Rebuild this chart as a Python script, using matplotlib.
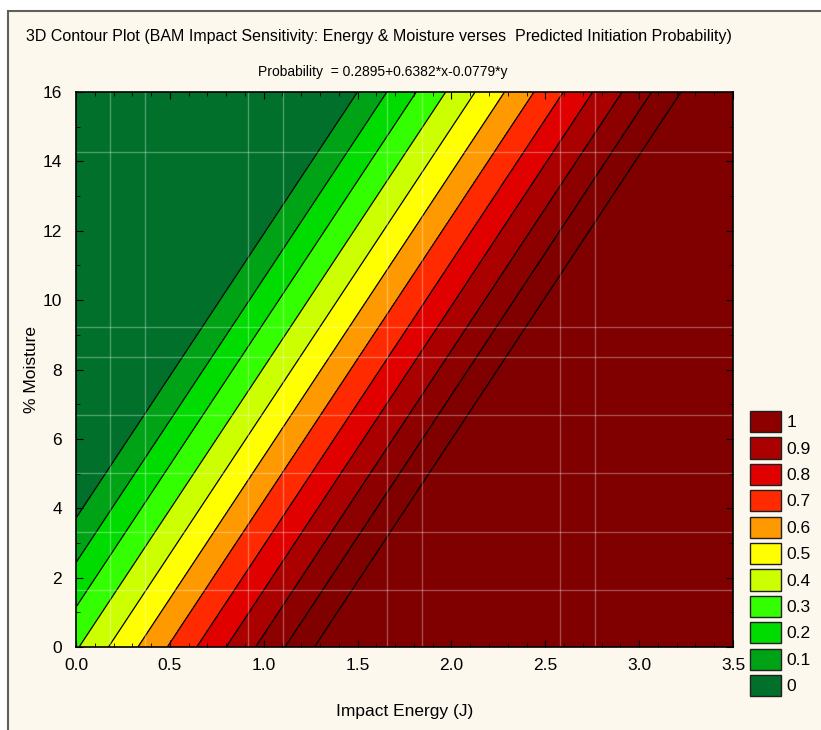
import numpy as np
import matplotlib
matplotlib.use("Agg")
import matplotlib.pyplot as plt
from matplotlib.patches import Patch, Rectangle

# fitted surface shown in the subtitle: Probability = b0 + bx*x + by*y
b0 = 0.2895
bx = 0.6382
by = -0.0779

x_range = [0.0, 3.5]
y_range = [0.0, 16.0]

# band edges (upper bound of each legend class) and their colours
band_labels = ["0", "0.1", "0.2", "0.3", "0.4", "0.5", "0.6", "0.7", "0.8", "0.9", "1"]
band_tops = [0.0, 0.1, 0.2, 0.3, 0.4, 0.5, 0.6, 0.7, 0.8, 0.9, 1.0]
band_colors = ["#00702a", "#00a316", "#00dc00", "#33ff00", "#ccff00", "#ffff00",
               "#ff9900", "#ff2a00", "#e00000", "#aa0000", "#8c0000"]
above_color = "#800000"
line_levels = [0.0, 0.1, 0.2, 0.3, 0.4, 0.5, 0.6, 0.7, 0.8, 0.9, 1.0, 1.1]

# faint mesh lines left by the surface rendering
mesh_x = [0.181, 0.368, 0.916, 1.103, 1.657, 1.843, 2.579, 2.765]
mesh_y = [1.64, 3.31, 5.01, 6.69, 8.37, 9.23, 14.27]

plt.rcParams["font.family"] = ["Liberation Sans", "DejaVu Sans"]

fig = plt.figure(figsize=(8.21, 7.30), dpi=100, facecolor="white")
fig.patches.append(Rectangle((8 / 821, -0.01), 1.0, 719 / 730 + 0.01,
                             transform=fig.transFigure, facecolor="#fdf8ee",
                             edgecolor="#606060", lw=1.5, zorder=-5))

ax = fig.add_axes([76 / 821, 1 - 647 / 730, 657 / 821, 555 / 730])

xx, yy = np.meshgrid(np.linspace(*x_range, 400), np.linspace(*y_range, 400))
zz = b0 + bx * xx + by * yy

fill_levels = [zz.min() - 1] + band_tops + [zz.max() + 1]
ax.contourf(xx, yy, zz, levels=fill_levels, colors=band_colors + [above_color])
ax.contour(xx, yy, zz, levels=line_levels, colors="black", linewidths=0.9)

for mx in mesh_x:
    ax.axvline(mx, color="white", alpha=0.3, lw=1)
for my in mesh_y:
    ax.axhline(my, color="white", alpha=0.3, lw=1)

ax.set_xlim(*x_range)
ax.set_ylim(*y_range)
ax.set_xticks(np.arange(0, 3.51, 0.5))
ax.set_xticks(np.arange(0, 3.51, 0.1), minor=True)
ax.set_yticks(np.arange(0, 16.1, 2))
ax.set_yticks(np.arange(0, 16.1, 1), minor=True)
ax.set_xticklabels([f"{v:.1f}" for v in np.arange(0, 3.51, 0.5)])
ax.tick_params(which="both", direction="in", top=True, right=True, labelsize=12.5, color="black")
ax.tick_params(which="major", length=5)
ax.tick_params(which="minor", length=3)
ax.tick_params(axis="x", pad=8)
ax.tick_params(axis="y", pad=10)
for s in ax.spines.values():
    s.set_linewidth(1.2)

ax.set_xlabel("Impact Energy (J)", fontsize=12.5, labelpad=22)
ax.set_ylabel("% Moisture", fontsize=12.5, labelpad=3)

fig.text(379 / 821, 1 - 37 / 730, "3D Contour Plot (BAM Impact Sensitivity: Energy & Moisture "
         "verses  Predicted Initiation Probability)", ha="center", va="center", fontsize=11.5)
fig.text(383 / 821, 1 - 72 / 730, "Probability  = 0.2895+0.6382*x-0.0779*y",
         ha="center", va="center", fontsize=10)

handles = [Patch(facecolor=c, edgecolor="#202020", lw=1, label=l)
           for c, l in zip(band_colors[::-1], band_labels[::-1])]
fig.legend(handles=handles, loc="upper left", bbox_to_anchor=(750 / 821, 1 - 411 / 730),
           frameon=False, fontsize=12.5, handlelength=1.8, handleheight=1.5,
           labelspacing=0.3, handletextpad=0.3, borderpad=0, borderaxespad=0)

fig.savefig("out.png", dpi=100, facecolor="white")
